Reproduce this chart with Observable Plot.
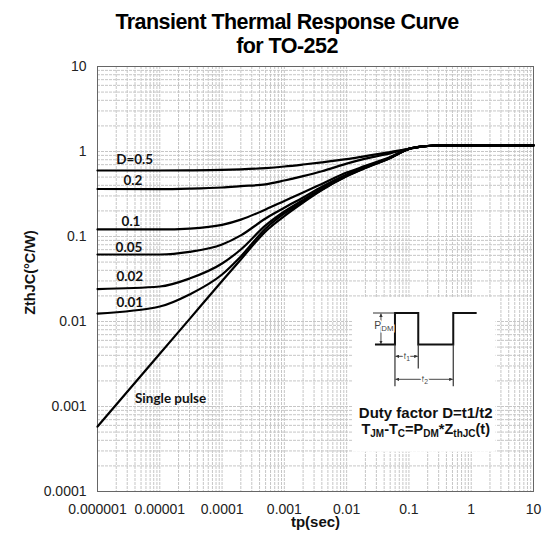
<!DOCTYPE html>
<html><head><meta charset="utf-8">
<script src="https://cdn.jsdelivr.net/npm/d3@7"></script>
<script src="https://cdn.jsdelivr.net/npm/@observablehq/plot@0.6"></script>
<style>
body{margin:0;background:#fff;width:546px;height:544px;overflow:hidden;font-family:Arial,"Liberation Sans",sans-serif;}
#title{height:56px;box-sizing:border-box;padding-top:9.5px;padding-left:28px;text-align:center;font-weight:bold;font-size:21.5px;line-height:24px;letter-spacing:-0.55px;color:#000;}
#title div{height:24px;white-space:nowrap;}
svg{display:block}
</style></head><body>
<div id="title"><div>Transient Thermal Response Curve</div><div>for TO-252</div></div>
<div id="chart"></div>
<script>
// pulse width tp (s)
const tp = [0.000001, 0.00001, 0.00003, 0.0001, 0.0002, 0.0005, 0.001, 0.002, 0.004, 0.01, 0.02, 0.05, 0.1, 0.2, 0.3, 1, 10];
// ZthJC (°C/W) per duty factor
const zD05  = [0.598, 0.598, 0.60, 0.607, 0.617, 0.638, 0.666, 0.703, 0.746, 0.814, 0.883, 0.984, 1.075, 1.16, 1.178, 1.18, 1.18];
const zD02  = [0.362, 0.36, 0.365, 0.377, 0.391, 0.411, 0.456, 0.514, 0.586, 0.719, 0.823, 0.952, 1.075, 1.16, 1.178, 1.18, 1.18];
const zD01  = [0.121, 0.121, 0.124, 0.137, 0.158, 0.208, 0.262, 0.33, 0.416, 0.565, 0.678, 0.86, 1.075, 1.16, 1.178, 1.18, 1.18];
const zD005 = [0.0614, 0.0614, 0.0658, 0.0805, 0.103, 0.163, 0.218, 0.288, 0.385, 0.536, 0.657, 0.85, 1.075, 1.16, 1.178, 1.18, 1.18];
const zD002 = [0.0241, 0.0258, 0.032, 0.0481, 0.0703, 0.135, 0.197, 0.269, 0.367, 0.522, 0.649, 0.843, 1.075, 1.16, 1.178, 1.18, 1.18];
const zD001 = [0.0124, 0.015, 0.0208, 0.0357, 0.0582, 0.124, 0.187, 0.258, 0.357, 0.515, 0.643, 0.84, 1.075, 1.16, 1.178, 1.18, 1.18];
const zSingle = [0.00058, 0.00417, 0.01067, 0.0299, 0.0537, 0.115, 0.174, 0.251, 0.352, 0.51, 0.64, 0.837, 1.075, 1.16, 1.178, 1.18, 1.18];

const seriesNames = ["D=0.5", "0.2", "0.1", "0.05", "0.02", "0.01", "Single pulse"];
const seriesValues = [zD05, zD02, zD01, zD005, zD002, zD001, zSingle];

// curve label anchors (data coordinates)
const labelT = [0.00000395, 0.0000037, 0.00000345, 0.0000032, 0.0000033, 0.0000033, 0.0000149];
const labelZ = [0.798, 0.448, 0.151, 0.0748, 0.0339, 0.01686, 0.00123];

// axis ticks
const xTicks = [0.000001, 0.00001, 0.0001, 0.001, 0.01, 0.1, 1, 10];
const yTicks = [0.0001, 0.001, 0.01, 0.1, 1, 10];

// inset box corners (data coordinates)
const insetT = [0.0124, 2.5];
const insetZ = [0.019, 0.00029];

const rows = seriesNames.flatMap((s, i) => tp.map((t, j) => ({series: s, t, z: seriesValues[i][j]})));
const labels = seriesNames.map((s, i) => ({text: s, t: labelT[i], z: labelZ[i]}));

const minor = (lo, hi) => {
  const out = [];
  for (let e = lo; e < hi; e++) for (let k = 1; k <= 9; k++) out.push(+(k * Math.pow(10, e)).toPrecision(3));
  out.push(Math.pow(10, hi));
  return out;
};
const gridXv = minor(-6, 1);
const gridYv = minor(-4, 1);

const chart = Plot.plot({
  width: 546, height: 488,
  marginLeft: 97, marginRight: 13, marginTop: 10, marginBottom: 53,
  style: {fontFamily: "Arial, 'Liberation Sans', sans-serif", background: "white"},
  x: {type: "log", domain: [0.000001, 10]},
  y: {type: "log", domain: [0.0001, 10]},
  marks: [
    Plot.gridX(gridXv, {stroke: "#c6c6c6", strokeOpacity: 1, strokeDasharray: "3,1"}),
    Plot.gridY(gridYv, {stroke: "#c6c6c6", strokeOpacity: 1, strokeDasharray: "3,1"}),
    Plot.frame({stroke: "#666"}),
    Plot.axisX(xTicks, {tickSize: 0, tickPadding: 13, tickFormat: d => String(d), fontSize: 14, color: "#222", label: null}),
    Plot.axisY(yTicks, {tickSize: 0, tickPadding: 11, tickFormat: d => String(d), fontSize: 14, color: "#222", label: null}),
    Plot.line(rows, {x: "t", y: "z", z: "series", stroke: "#000", strokeWidth: 2.2, curve: "monotone-x"}),
    Plot.text(labels, {x: "t", y: "z", text: "text", fontFamily: "Lato, 'Open Sans', sans-serif", fontWeight: "bold", fontSize: 13.5, fill: "#111"}),
    Plot.text(["tp(sec)"], {frameAnchor: "bottom", dy: 35, fontWeight: "bold", fontSize: 15, fill: "#111"})
  ]
});
document.getElementById("chart").appendChild(chart);

const svg = d3.select(chart);
// y axis title
svg.append("text").attr("transform", "translate(30,216.5) rotate(-90)")
  .attr("text-anchor", "middle").attr("dy", "0.35em")
  .attr("font-size", 14.5).attr("font-weight", "bold").attr("fill", "#111").text("ZthJC(°C/W)");

// inset: pulse diagram
const sx = chart.scale("x"), sy = chart.scale("y");
const bx0 = sx.apply(insetT[0]), bx1 = sx.apply(insetT[1]);
const by0 = sy.apply(insetZ[0]), by1 = sy.apply(insetZ[1]);
const defs = svg.append("defs");
defs.append("marker").attr("id", "ah").attr("viewBox", "0 0 6 6").attr("refX", 6).attr("refY", 3)
  .attr("markerWidth", 4).attr("markerHeight", 4).attr("orient", "auto-start-reverse")
  .append("path").attr("d", "M0,0L6,3L0,6Z").attr("fill", "#333");
const g = svg.append("g").attr("transform", `translate(${bx0},${by0})`);
g.append("rect").attr("width", bx1 - bx0).attr("height", by1 - by0).attr("fill", "white");
const lo = 47.3, hi = 15.7;
g.append("path").attr("fill", "none").attr("stroke", "#111").attr("stroke-width", 2)
  .attr("d", `M23,${lo}H43V${hi}H66.3V${lo}H101.3V${hi}H124.7`);
g.append("path").attr("fill", "none").attr("stroke", "#333").attr("stroke-width", 1.2)
  .attr("d", `M21,${hi}H43 M43,${lo}V89 M66.3,${lo}V71.3 M101.3,${lo}V89`);
const dim = (x1, y1, x2, y2) => g.append("line").attr("x1", x1).attr("y1", y1).attr("x2", x2).attr("y2", y2)
  .attr("stroke", "#333").attr("stroke-width", 0.9).attr("marker-start", "url(#ah)").attr("marker-end", "url(#ah)");
dim(29, hi + 0.5, 29, lo - 0.5);
dim(43.5, 59, 65.8, 59);
dim(43.5, 82, 100.8, 82);
const small = (x, y, main, sub, fs) => {
  const t = g.append("text").attr("x", x).attr("y", y).attr("text-anchor", "middle")
    .attr("font-size", fs).attr("fill", "#444").attr("stroke", "white").attr("stroke-width", 3)
    .attr("paint-order", "stroke");
  t.append("tspan").text(main);
  t.append("tspan").attr("font-size", fs * 0.75).attr("dy", 2).text(sub);
};
small(32, 31.5, "P", "DM", 10.5);
small(55, 61.5, "t", "1", 9);
small(73, 84.5, "t", "2", 9);
const cx = (bx1 - bx0) / 2 + 2;
g.append("text").attr("x", cx).attr("y", 121).attr("text-anchor", "middle")
  .attr("font-size", 15).attr("font-weight", "bold").attr("fill", "#111").text("Duty factor D=t1/t2");
const f = g.append("text").attr("x", cx).attr("y", 137).attr("text-anchor", "middle")
  .attr("font-size", 14.5).attr("font-weight", "bold").attr("fill", "#111");
const parts = [["T", 0], ["JM", 1], ["-T", 0], ["C", 1], ["=P", 0], ["DM", 1], ["*Z", 0], ["thJC", 1], ["(t)", 0]];
let sub = false;
for (const [s, isSub] of parts) {
  const ts = f.append("tspan").text(s);
  if (isSub) { ts.attr("font-size", 10); if (!sub) ts.attr("dy", 3); }
  else if (sub) ts.attr("dy", -3);
  sub = !!isSub;
}
</script>
</body></html>
